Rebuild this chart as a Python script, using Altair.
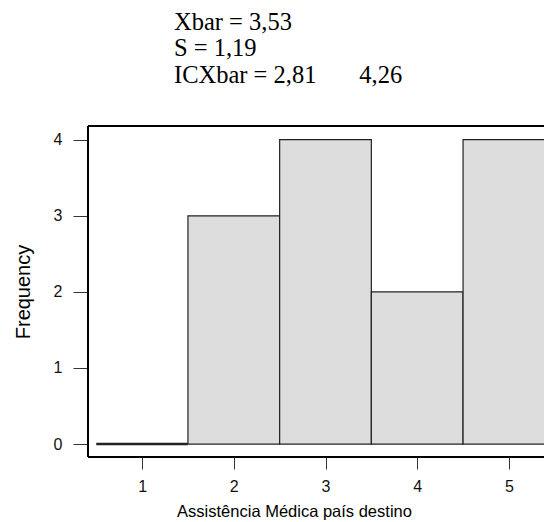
import altair as alt
import pandas as pd

# Histogram data (class limits and frequencies)
bin_start = [0.5, 1.5, 2.5, 3.5, 4.5]
bin_end = [1.5, 2.5, 3.5, 4.5, 5.5]
counts = [0, 3, 4, 2, 4]

x_ticks = [1, 2, 3, 4, 5]
y_ticks = [0, 1, 2, 3, 4]

stats_lines = ["Xbar = 3,53", "S = 1,19", "ICXbar = 2,81" + "\u00a0" * 7 + "4,26"]

x_title = "Assistência Médica país destino"
y_title = "Frequency"

df = pd.DataFrame({"start": bin_start, "end": bin_end, "count": counts})

W = 456
H = 331

xscale = alt.Scale(domain=[0.41, 0.41 + W / 91.7], nice=False, zero=False)
yscale = alt.Scale(domain=[-0.17, 4.18], nice=False, zero=False)

bars = alt.Chart(df).mark_rect(
    fill="#DDDDDD", stroke="#222222"
).encode(
    x=alt.X("start:Q", scale=xscale,
            axis=alt.Axis(values=x_ticks, title=x_title, domain=False, grid=False,
                          tickSize=12, tickColor="#333333", tickWidth=1,
                          labelFont="Liberation Sans", labelFontSize=16, labelColor="#111111",
                          labelPadding=9, labelFlush=False,
                          titleFont="Liberation Sans", titleFontSize=16.5, titleFontWeight="normal",
                          titleColor="#000000", titleX=206, titleY=59, titleAlign="center",
                          titleBaseline="alphabetic")),
    x2="end:Q",
    y=alt.Y("count:Q", scale=yscale,
            axis=alt.Axis(values=y_ticks, title=y_title, domain=False, grid=False,
                          tickSize=15, tickColor="#333333", tickWidth=1,
                          labelFont="Liberation Sans", labelFontSize=16, labelColor="#111111",
                          labelPadding=11, labelFlush=False,
                          titleFont="Liberation Sans", titleFontSize=20, titleFontWeight="normal",
                          titleColor="#000000", titlePadding=20)),
    y2=alt.datum(0),
    strokeWidth=alt.condition(alt.datum.count == 0, alt.value(2.5), alt.value(1.2)),
)

frame_top = alt.Chart(df).mark_rule(color="#000000", strokeWidth=1.3).encode(
    x=alt.value(0), x2=alt.value(W), y=alt.value(0))
frame_left = alt.Chart(df).mark_rule(color="#000000", strokeWidth=1.3).encode(
    x=alt.value(0), y=alt.value(0), y2=alt.value(H))
frame_bottom = alt.Chart(df).mark_rule(color="#000000", strokeWidth=1.3).encode(
    x=alt.value(0), x2=alt.value(W), y=alt.value(H))

chart = alt.layer(bars, frame_top, frame_left, frame_bottom).properties(
    width=W, height=H,
    title=alt.TitleParams(stats_lines, anchor="start", frame="group", dx=86, offset=37,
                          font="Liberation Serif", fontSize=24.5, fontWeight="normal",
                          lineHeight=26.5, color="#000000"),
    autosize=alt.AutoSizeParams(type="none"),
    padding={"left": 80, "top": 118, "right": 0, "bottom": 65},
).configure_view(stroke=None)

chart.save("out.html", embed_options={"renderer": "svg", "actions": False})
